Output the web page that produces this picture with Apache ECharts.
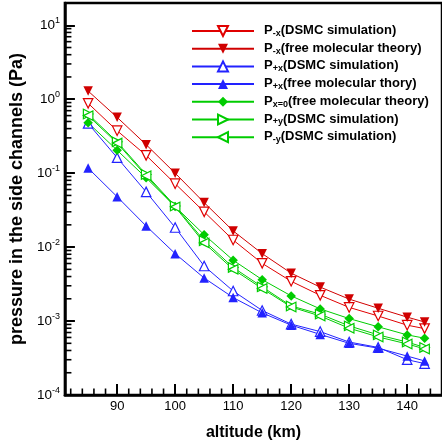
<!DOCTYPE html>
<html>
<head>
<meta charset="utf-8">
<script src="https://cdn.jsdelivr.net/npm/echarts@6/dist/echarts.min.js"></script>
<style>html,body{margin:0;padding:0;background:#fff;}#c{width:442px;height:446px;}</style>
</head>
<body>
<div id="c"></div>
<script>
var altitude = [85, 90, 95, 100, 105, 110, 115, 120, 125, 130, 135, 140, 143];
var pMinusX_DSMC = [0.88, 0.375, 0.174, 0.072, 0.0300, 0.01248, 0.00603, 0.00345, 0.00223, 0.00153, 0.00117, 0.00088, 0.00079];
var pMinusX_FM   = [1.29, 0.569, 0.243, 0.100, 0.0400, 0.01656, 0.00816, 0.00444, 0.00288, 0.00198, 0.00149, 0.00113, 0.00097];
var pPlusX_DSMC  = [0.47, 0.162, 0.0558, 0.0184, 0.00555, 0.00255, 0.00139, 0.00091, 0.00072, 0.00052, 0.00044, 0.00030, 0.000266];
var pPlusX_FM    = [0.117, 0.048, 0.0193, 0.00816, 0.00382, 0.00208, 0.00129, 0.00088, 0.00066, 0.00050, 0.00043, 0.000336, 0.000289];
var pX0_FM       = [0.48, 0.204, 0.0865, 0.0354, 0.0147, 0.00665, 0.00363, 0.00219, 0.00146, 0.00108, 0.000836, 0.00065, 0.000586];
var pPlusY_DSMC  = [0.63, 0.265, 0.096, 0.0360, 0.0122, 0.0053, 0.0029, 0.0016, 0.00124, 0.00086, 0.00065, 0.00052, 0.00044];
var pMinusY_DSMC = [0.60, 0.255, 0.092, 0.0350, 0.0114, 0.0050, 0.00275, 0.00155, 0.00117, 0.00080, 0.00061, 0.00049, 0.00042];

var xTickLabels = [90, 100, 110, 120, 130, 140];
var xMinorTicks = [82, 84, 86, 88, 92, 94, 96, 98, 102, 104, 106, 108, 112, 114, 116, 118, 122, 124, 126, 128, 132, 134, 136, 138, 142, 144];
var yTickLabels = [1e-4, 1e-3, 1e-2, 1e-1, 1e0, 1e1];
var yMinorTicks = [];
for (var d = -4; d <= 1; d++) {
  for (var m = 2; m <= 9; m++) {
    var v = m * Math.pow(10, d);
    if (v < 20) yMinorTicks.push(v);
  }
}
var X_MIN = 81, X_MAX = 146, Y_MIN = 1e-4, Y_MAX = 20;

var FONT = "'Liberation Sans', Arial, sans-serif";
var RED = '#e00000', DRED = '#d00000', BLUE = '#2222ff', GREEN = '#00cc00';

function pairs(ys) { return altitude.map(function (x, i) { return [x, ys[i]]; }); }

function mkSeries(name, ys, color, symbol, rot, hollow) {
  return {
    name: name, type: 'line', data: pairs(ys),
    symbol: symbol, symbolSize: 9.5, symbolRotate: rot,
    lineStyle: { color: color, width: 1 },
    itemStyle: hollow ? { color: '#fff', borderColor: color, borderWidth: 1.2 } : { color: color, borderWidth: 0 },
    emphasis: { disabled: true },
    animation: false
  };
}

var names = ['mxD', 'mxF', 'pxD', 'pxF', 'x0F', 'pyD', 'myD'];
var legendText = {
  mxD: '{p|P}{s|-x}{m|(DSMC simulation)}',
  mxF: '{p|P}{s|-x}{m|(free molecular theory)}',
  pxD: '{p|P}{s|+x}{m|(DSMC simulation)}',
  pxF: '{p|P}{s|+x}{m|(free molecular thory)}',
  x0F: '{p|P}{s|x=0}{m|(free molecular theory)}',
  pyD: '{p|P}{s|+y}{m|(DSMC simulation)}',
  myD: '{p|P}{s|-y}{m|(DSMC simulation)}'
};

function isPow10(v) {
  var e = Math.log10(v);
  return Math.abs(e - Math.round(e)) < 1e-6;
}

var chart = echarts.init(document.getElementById('c'), null, { renderer: 'canvas' });
var option = {
  animation: false,
  grid: { left: 60, top: 3, width: 385.6, height: 402, show: true, borderColor: '#000', borderWidth: 2.5 },
  legend: {
    data: names,
    orient: 'vertical',
    left: 191, top: 24,
    padding: 0,
    itemWidth: 62, itemHeight: 12.5, itemGap: 0.7,
    selectedMode: false,
    formatter: function (n) { return legendText[n]; },
    textStyle: {
      fontFamily: FONT, color: '#000',
      rich: {
        p: { fontSize: 13, fontWeight: 'bold', fontFamily: FONT, lineHeight: 14, verticalAlign: 'top', padding: [0, 0, 4, 5] },
        m: { fontSize: 13, fontWeight: 'bold', fontFamily: FONT, lineHeight: 14, verticalAlign: 'top', padding: [0, 0, 4, 0] },
        s: { fontSize: 9, fontWeight: 'bold', fontFamily: FONT, lineHeight: 9, verticalAlign: 'bottom' }
      }
    }
  },
  xAxis: {
    type: 'value', min: X_MIN, max: X_MAX,
    name: 'altitude (km)', nameLocation: 'middle', nameGap: 30,
    nameTextStyle: { fontFamily: FONT, fontSize: 16, fontWeight: 'bold', color: '#000' },
    axisLine: { show: true, onZero: false, lineStyle: { color: '#000', width: 2.5 } },
    axisTick: { show: true, inside: true, length: 11, customValues: xTickLabels, lineStyle: { color: '#000', width: 2 } },
    axisLabel: { show: true, customValues: xTickLabels, margin: 5, fontFamily: FONT, fontSize: 13, color: '#000' },
    splitLine: { show: false }
  },
  yAxis: {
    type: 'log', logBase: 10, min: Y_MIN, max: Y_MAX,
    name: 'pressure in the side channels (Pa)', nameLocation: 'middle', nameGap: 32, nameRotate: 90,
    nameTextStyle: { fontFamily: FONT, fontSize: 18, fontWeight: 'bold', color: '#000' },
    axisLine: { show: true, onZero: false, lineStyle: { color: '#000', width: 2.5 } },
    axisTick: { show: true, inside: true, length: 10, lineStyle: { color: '#000', width: 2 } },
    axisLabel: {
      show: true, margin: 5,
      formatter: function (v) {
        if (!isPow10(v)) return '';
        return '{b|10}{e|' + Math.round(Math.log10(v)) + '}';
      },
      rich: {
        b: { fontFamily: FONT, fontSize: 13.5, color: '#000', lineHeight: 18, verticalAlign: 'middle' },
        e: { fontFamily: FONT, fontSize: 9, color: '#000', lineHeight: 10, verticalAlign: 'top' }
      }
    },
    splitLine: { show: false }
  },
  series: [
    mkSeries('mxD', pMinusX_DSMC, RED, 'triangle', 180, true),
    mkSeries('mxF', pMinusX_FM, DRED, 'triangle', 180, false),
    mkSeries('pxD', pPlusX_DSMC, BLUE, 'triangle', 0, true),
    mkSeries('pxF', pPlusX_FM, BLUE, 'triangle', 0, false),
    mkSeries('x0F', pX0_FM, GREEN, 'diamond', 0, false),
    mkSeries('pyD', pPlusY_DSMC, GREEN, 'triangle', -90, true),
    mkSeries('myD', pMinusY_DSMC, GREEN, 'triangle', 90, true)
  ]
};
chart.setOption(option);

// minor ticks, positioned through the chart's own axis scales
try {
  var marks = [];
  xMinorTicks.forEach(function (x) {
    var p = chart.convertToPixel({ gridIndex: 0 }, [x, Y_MIN]);
    marks.push({ type: 'line', z: 100, shape: { x1: p[0], y1: p[1], x2: p[0], y2: p[1] - 6.5 }, style: { stroke: '#000', lineWidth: 1.6 } });
  });
  yMinorTicks.forEach(function (y) {
    var p = chart.convertToPixel({ gridIndex: 0 }, [X_MIN, y]);
    marks.push({ type: 'line', z: 100, shape: { x1: p[0], y1: p[1], x2: p[0] + 6.5, y2: p[1] }, style: { stroke: '#000', lineWidth: 1.6 } });
  });
  chart.setOption({ graphic: marks });
} catch (e) {}
</script>
</body>
</html>
